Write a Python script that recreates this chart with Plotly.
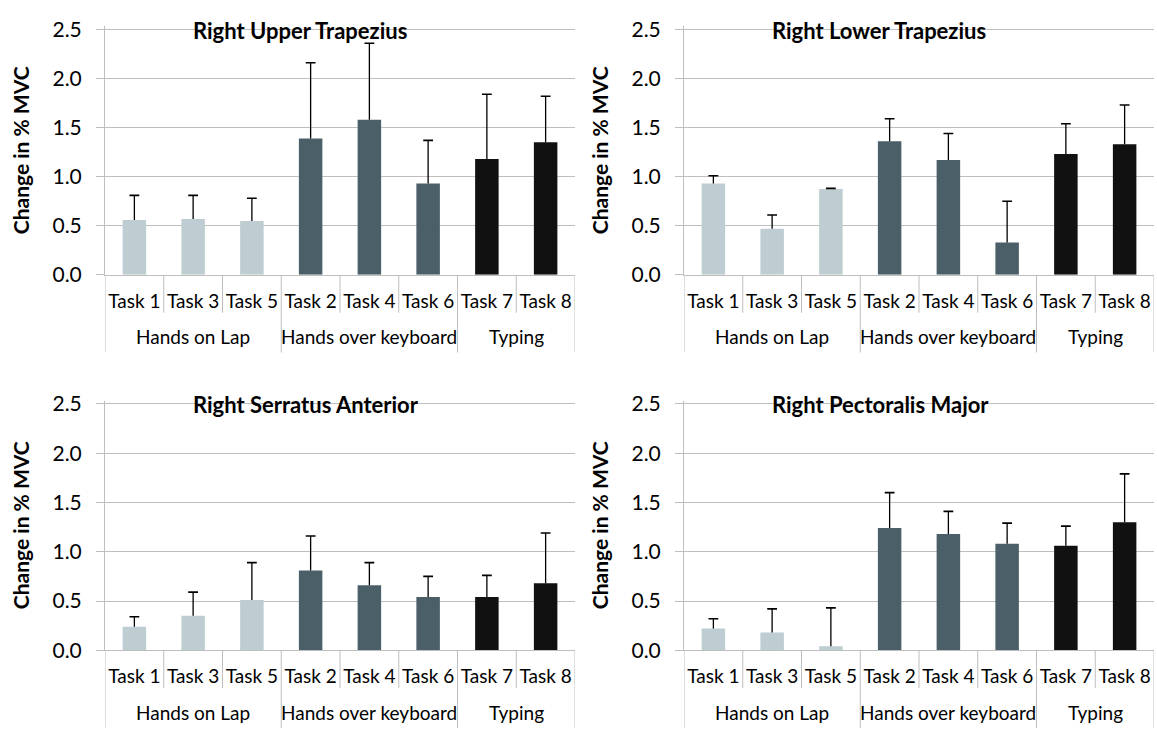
import plotly.graph_objects as go

# ---- data -------------------------------------------------------------
tasks = ["Task 1", "Task 3", "Task 5", "Task 2", "Task 4", "Task 6", "Task 7", "Task 8"]
groups = ["Hands on Lap", "Hands over keyboard", "Typing"]
group_sizes = [3, 3, 2]
group_colors = ["#BECDD2", "#4A5F68", "#111111"]

y_ticks = [0.0, 0.5, 1.0, 1.5, 2.0, 2.5]

muscles = ["Right Upper Trapezius", "Right Lower Trapezius",
           "Right Serratus Anterior", "Right Pectoralis Major"]

upper_trap_mean = [0.56, 0.57, 0.55, 1.39, 1.58, 0.93, 1.18, 1.35]
upper_trap_sd = [0.25, 0.24, 0.23, 0.77, 0.78, 0.44, 0.66, 0.47]

lower_trap_mean = [0.93, 0.47, 0.875, 1.36, 1.17, 0.33, 1.23, 1.33]
lower_trap_sd = [0.08, 0.14, 0.006, 0.23, 0.27, 0.42, 0.31, 0.40]

serratus_mean = [0.24, 0.35, 0.51, 0.81, 0.66, 0.54, 0.54, 0.68]
serratus_sd = [0.10, 0.24, 0.38, 0.35, 0.23, 0.21, 0.22, 0.51]

pectoralis_mean = [0.22, 0.18, 0.04, 1.24, 1.18, 1.08, 1.06, 1.30]
pectoralis_sd = [0.10, 0.24, 0.39, 0.36, 0.23, 0.21, 0.20, 0.49]

means = [upper_trap_mean, lower_trap_mean, serratus_mean, pectoralis_mean]
sds = [upper_trap_sd, lower_trap_sd, serratus_sd, pectoralis_sd]

# ---- layout constants (pixels) -----------------------------------------
W, H = 1157, 736
FONT = "Lato, Calibri, Carlito, sans-serif"
GRID = "#BEBEBE"
# (left, right, y of top gridline, y of zero line)
panels = [
    (105, 575, 19, 272),
    (684, 1154, 19, 272),
    (105, 575, 405, 659),
    (684, 1154, 405, 659),
]
Y_TOP = y_ticks[-1]
Y_MAX = Y_TOP + 0.03

bar_colors = []
for c, n in zip(group_colors, group_sizes):
    bar_colors += [c] * n

# group boundaries and centres along the category axis
bounds = [-0.5]
for n in group_sizes:
    bounds.append(bounds[-1] + n)
centres = [(a + b) / 2 for a, b in zip(bounds[:-1], bounds[1:])]
inner_bounds = [i + 0.5 for i in range(len(tasks) - 1) if (i + 0.5) not in bounds]

fig = go.Figure()
shapes, annotations = [], []

for k, (x0, x1, ytop, yzero) in enumerate(panels):
    sfx = "" if k == 0 else str(k + 1)
    xa, ya = "x" + sfx, "y" + sfx
    ppu = (yzero - ytop) / Y_TOP
    dom_top = yzero - Y_MAX * ppu

    def ydom(px, yzero=yzero, dom_top=dom_top):
        return (yzero - px) / (yzero - dom_top)

    m, s = means[k], sds[k]
    fig.add_trace(go.Bar(
        x=tasks, y=m, xaxis=xa, yaxis=ya,
        marker=dict(color=bar_colors, line=dict(width=0)),
        error_y=dict(type="data", symmetric=False, array=s,
                     arrayminus=[0] * len(s), width=0,
                     color="#000000", thickness=1.3),
        showlegend=False, hoverinfo="x+y",
    ))
    fig.add_trace(go.Scatter(
        x=tasks, y=[a + b for a, b in zip(m, s)], xaxis=xa, yaxis=ya,
        mode="markers",
        marker=dict(symbol="line-ew", size=7, color="#000000",
                    line=dict(width=1.6, color="#000000")),
        showlegend=False, hoverinfo="skip",
    ))

    fig.update_layout(**{
        "xaxis" + sfx: dict(
            type="category", range=[-0.5, len(tasks) - 0.5],
            domain=[x0 / W, x1 / W], anchor=ya,
            showline=True, linecolor=GRID, linewidth=1,
            showgrid=False, zeroline=False, ticks="",
            tickfont=dict(family=FONT, size=19, color="#000000"),
            ticklabelstandoff=9, fixedrange=True,
        ),
        "yaxis" + sfx: dict(
            range=[0, Y_MAX], domain=[(H - yzero) / H, (H - dom_top) / H],
            anchor=xa, tickvals=y_ticks,
            ticktext=[f"{v:.1f}" for v in y_ticks],
            ticks="outside", ticklen=8, tickcolor=GRID, tickwidth=1,
            showline=True, linecolor=GRID, linewidth=1,
            showgrid=True, gridcolor=GRID, gridwidth=1, zeroline=False,
            tickfont=dict(family=FONT, size=21, color="#000000"),
            ticklabelstandoff=10, fixedrange=True,
        ),
    })

    # category table below the axis
    for b in bounds:
        shapes.append(dict(type="line", xref=xa, yref=ya + " domain",
                           x0=b, x1=b, y0=0, y1=ydom(yzero + 80),
                           line=dict(color=GRID, width=1)))
    for b in inner_bounds:
        shapes.append(dict(type="line", xref=xa, yref=ya + " domain",
                           x0=b, x1=b, y0=0, y1=ydom(yzero + 39),
                           line=dict(color=GRID, width=1)))
    for g, c in zip(groups, centres):
        annotations.append(dict(
            text=g, xref=xa, yref=ya + " domain", x=c, y=ydom(yzero + 64),
            xanchor="center", yanchor="middle", showarrow=False,
            font=dict(family=FONT, size=19, color="#000000")))

    # panel title
    annotations.append(dict(
        text="<b>" + muscles[k] + "</b>", xref="paper", yref="paper",
        x=(x0 + 86) / W, y=(H - (ytop + 1)) / H,
        xanchor="left", yanchor="middle", showarrow=False,
        font=dict(family=FONT, size=22, color="#000000")))

    # y-axis title
    annotations.append(dict(
        text="<b>Change in % MVC</b>", xref="paper", yref="paper",
        x=(x0 - 85) / W, y=(H - (ytop + yzero) / 2 + 2) / H,
        xanchor="center", yanchor="middle", textangle=-90, showarrow=False,
        font=dict(family=FONT, size=21, color="#000000")))

fig.update_layout(
    width=W, height=H, margin=dict(l=0, r=0, t=0, b=0),
    paper_bgcolor="#FFFFFF", plot_bgcolor="#FFFFFF",
    bargap=0.6, showlegend=False,
    shapes=shapes, annotations=annotations,
    font=dict(family=FONT, color="#000000"),
)

fig.write_html("out.html", post_script="document.body.style.margin='0px';")
